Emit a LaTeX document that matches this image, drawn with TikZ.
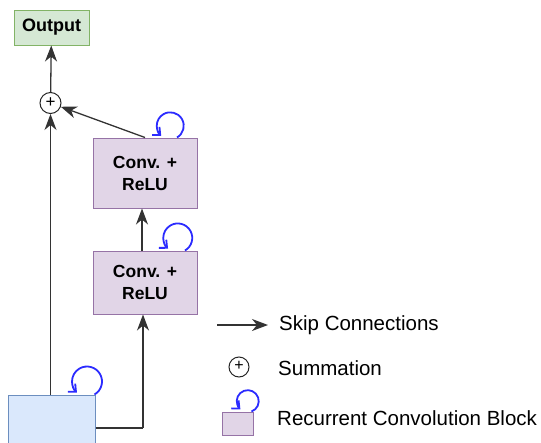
\documentclass[tikz,border=0pt]{standalone}
\usepackage{fontspec}
\setmainfont{Liberation Sans}
\usetikzlibrary{arrows.meta,calc}
\definecolor{gfill}{HTML}{D5E8D4}
\definecolor{gline}{HTML}{82B366}
\definecolor{pfill}{HTML}{E1D5E7}
\definecolor{pline}{HTML}{9673A6}
\definecolor{bfill}{HTML}{DAE8FC}
\definecolor{bline}{HTML}{6C8EBF}
\definecolor{loopblue}{HTML}{2B2BFF}
\definecolor{linegray}{HTML}{333333}
\tikzset{
  convbox/.style={draw=pline,fill=pfill,line width=1pt,minimum width=104pt,minimum height=70pt,inner sep=0pt,
    font=\fontsize{17.5}{22}\selectfont\bfseries,align=center},
  conn/.style={draw=linegray,line width=1.3pt,-{Stealth[length=16pt,width=12pt,inset=5pt]}},
  plain/.style={draw=linegray,line width=1.3pt},
  loopy/.style={draw=loopblue,line width=1.8pt,-{Straight Barb[length=6pt,width=11pt]}},
  sumcirc/.style={draw=black!85,circle,line width=1pt,inner sep=0pt},
  legtext/.style={anchor=west,font=\fontsize{20.5}{24}\selectfont,inner sep=0pt}
}
\begin{document}
\begin{tikzpicture}[x=1pt,y=-1pt]
\useasboundingbox (0,0) rectangle (541,442);
\clip (0,0) rectangle (541,442);
% nodes
\node[draw=gline,fill=gfill,line width=1pt,minimum width=75pt,minimum height=35pt,inner sep=0pt,
  font=\fontsize{18}{20}\selectfont\bfseries] (out) at (51.5,27.5) {Output};
\node[sumcirc,minimum size=21pt] (sum) at (50.5,103) {};
\node[font=\fontsize{17}{17}\selectfont,inner sep=0pt] (sumplus) at ($(sum.center)+(0,-0.8)$) {+};
\node[convbox] (ub) at (145,173) {Conv. +\\ReLU};
\node[convbox,minimum height=63pt] (lb) at (145,282.5) {Conv. +\\ReLU};
\node[draw=bline,fill=bfill,line width=1pt,minimum width=87pt,minimum height=52pt,inner sep=0pt] (in) at (51.5,421) {};
% connectors
\draw[conn] (sum) -- (out);
\draw[conn] (ub.north) -- (sum);
\draw[conn] ([xshift=-3pt]lb.north) -- ([xshift=-3pt]ub.south);
\draw[conn] (in.north -| sum) -- (sum);
\coordinate (corner) at (143,428);
\draw[plain] (in.east |- corner) -- (corner);
\draw[conn] (corner) -- ([xshift=-2pt]lb.south);
% loops (angles mirrored because y points down)
\draw[loopy] ($(ub.north)+(32,0)$) arc[start angle=60,end angle=-228,radius=13.5];
\draw[loopy] ($(lb.north)+(40,0)$) arc[start angle=60,end angle=-228,radius=14.5];
\draw[loopy] ($(in.north)+(43,0)$) arc[start angle=60,end angle=-228,radius=15];
% legend
\coordinate (la1) at (217,325);
\coordinate (la2) at (268,325);
\draw[conn] (la1) -- (la2);
\node[legtext] (lt1) at (279,325) {Skip Connections};
\node[sumcirc,minimum size=20pt] (lsum) at (239,367) {};
\node[font=\fontsize{16}{16}\selectfont,inner sep=0pt] (lplus) at ($(lsum.center)+(0,-0.8)$) {+};
\node[legtext] (lt2) at (278,368) {Summation};
\node[draw=pline,fill=pfill,line width=1pt,minimum width=31pt,minimum height=23pt,inner sep=0pt] (lbox) at (237.5,423.5) {};
\draw[loopy] ($(lbox.north)+(14,0)$) arc[start angle=70,end angle=-228,radius=11];
\node[legtext] (lt3) at (277,418) {Recurrent Convolution Block};
\end{tikzpicture}
\end{document}
